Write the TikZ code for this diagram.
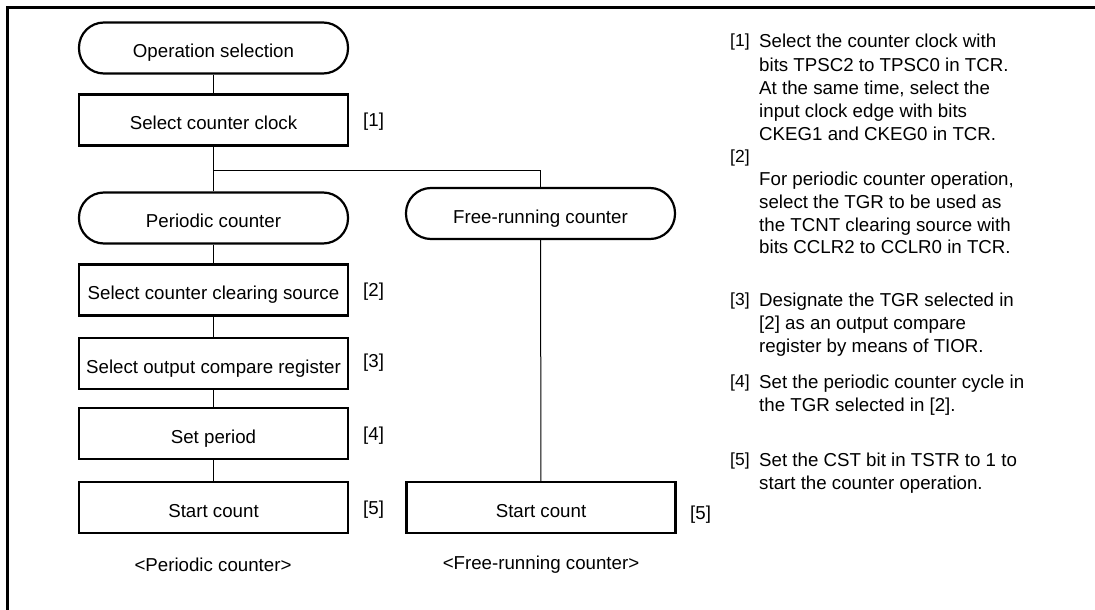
\documentclass[tikz,border=0pt]{standalone}
\usepackage{fontspec}
\setmainfont{Liberation Sans}
\begin{document}
\begin{tikzpicture}[x=1pt,y=-1pt,
  every node/.style={font=\fontsize{18.7}{22.8}\selectfont},
  proc/.style={draw, line width=2.2pt, minimum width=269pt, minimum height=51pt, inner sep=0pt, text height=19pt, text depth=0pt},
  term/.style={proc, rounded corners=25pt},
  conn/.style={line width=1pt},
  frame/.style={line width=2.5pt},
  tag/.style={anchor=west, inner sep=0pt},
  note/.style={anchor=base west, inner sep=0pt},
  notetag/.style={anchor=base west, inner sep=0pt, font=\fontsize{17.5}{20}\selectfont},
  caption/.style={inner sep=0pt}]
\useasboundingbox (0,0) rectangle (1095,610);
\draw[frame] (7.5,610) -- (7.5,7.5) -- (1095,7.5);

% flow chart
\node[term] (op) at (213.5,48) {Operation selection};
\node[proc] (clk) at (213.5,120) {Select counter clock};
\node[term] (per) at (213.5,218) {Periodic counter};
\node[term] (free) at (540.5,213.5) {Free-running counter};
\node[proc] (clr) at (213.5,290) {Select counter clearing source};
\node[proc] (ocr) at (213.5,363.5) {Select output compare register};
\node[proc] (setp) at (213.5,433.5) {Set period};
\node[proc] (st1) at (213.5,507.5) {Start count};
\node[proc] (st2) at (541,507.5) {Start count};

\node[tag] (t1) at (363,122) {[1]};
\node[tag] (t2) at (363,292) {[2]};
\node[tag] (t3) at (363,363) {[3]};
\node[tag] (t4) at (363,436) {[4]};
\node[tag] (t5) at (363,510) {[5]};
\node[tag] (t5b) at (690,515) {[5]};

\coordinate (br) at (213.5,170);
\coordinate (brr) at (540.5,170);
\draw[conn] (op) -- (clk);
\draw[conn] (clk) -- (per);
\draw[conn] (br) -- (brr) -- (free);
\draw[conn] (per) -- (clr);
\draw[conn] (clr) -- (ocr);
\draw[conn] (ocr) -- (setp);
\draw[conn] (setp) -- (st1);
\draw[conn] (free) -- (st2);

\node[caption] (c1) at (213,565) {<Periodic counter>};
\node[caption] (c2) at (541,565) {<Free-running counter>};

% notes
\node[notetag] (n1) at (730,47) {[1]};
\node[note] (n1a) at (759,48) {Select the counter clock with};
\node[note] (n1b) at (759,71) {bits TPSC2 to TPSC0 in TCR.};
\node[note] (n1c) at (759,94) {At the same time, select the};
\node[note] (n1d) at (759,117) {input clock edge with bits};
\node[note] (n1e) at (759,140) {CKEG1 and CKEG0 in TCR.};
\node[notetag] (n2) at (730,162) {[2]};
\node[note] (n2a) at (759,185) {For periodic counter operation,};
\node[note] (n2b) at (759,208) {select the TGR to be used as};
\node[note] (n2c) at (759,231) {the TCNT clearing source with};
\node[note] (n2d) at (759,253) {bits CCLR2 to CCLR0 in TCR.};
\node[notetag] (n3) at (730,305) {[3]};
\node[note] (n3a) at (759,306) {Designate the TGR selected in};
\node[note] (n3b) at (759,329) {[2] as an output compare};
\node[note] (n3c) at (759,352) {register by means of TIOR.};
\node[notetag] (n4) at (730,387) {[4]};
\node[note] (n4a) at (759,388) {Set the periodic counter cycle in};
\node[note] (n4b) at (759,411) {the TGR selected in [2].};
\node[notetag] (n5) at (730,465) {[5]};
\node[note] (n5a) at (759,466) {Set the CST bit in TSTR to 1 to};
\node[note] (n5b) at (759,489) {start the counter operation.};
\end{tikzpicture}
\end{document}
